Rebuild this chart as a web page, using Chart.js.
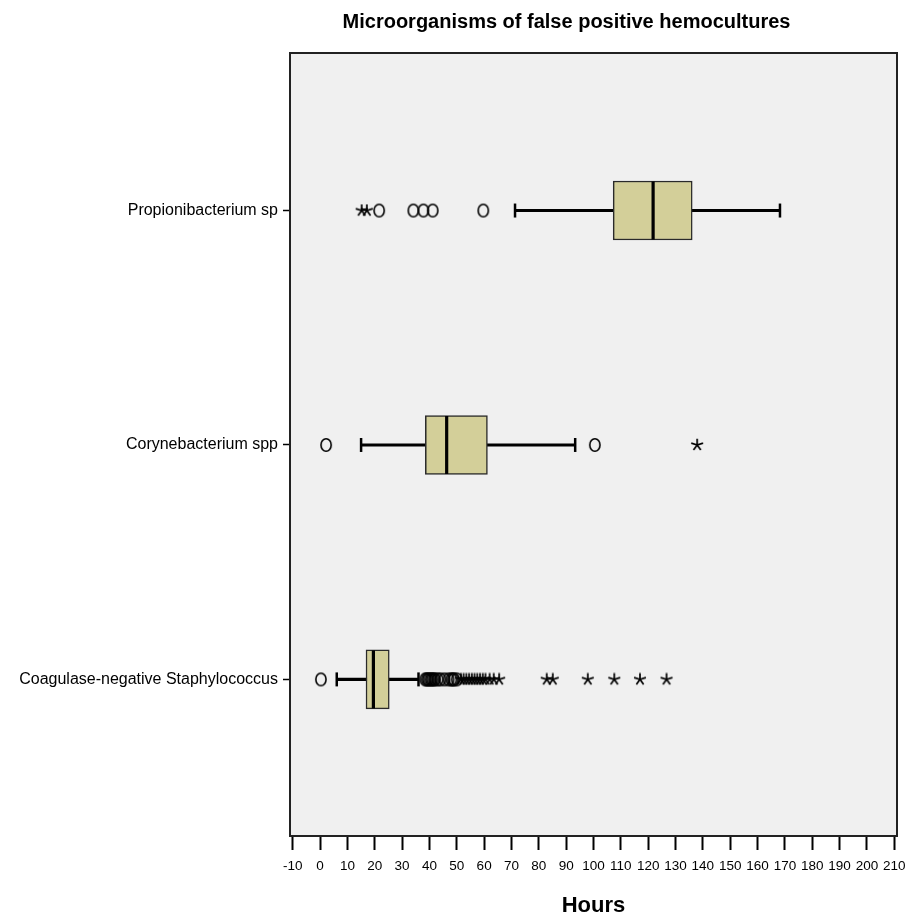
<!DOCTYPE html>
<html><head><meta charset="utf-8">
<script src="https://cdn.jsdelivr.net/npm/chart.js@4.4.1/dist/chart.umd.min.js"></script>
<style>html,body{margin:0;padding:0;background:#fff}canvas{display:block}</style>
</head><body>
<canvas id="c" width="905" height="915"></canvas>
<script>
// ---- data (hours) ----
const categories = ['Propionibacterium sp', 'Corynebacterium spp', 'Coagulase-negative Staphylococcus'];
const whiskerLow  = [71.3, 15.0, 6.1];
const q1          = [107.2, 38.5, 16.8];
const median      = [121.8, 46.3, 19.5];
const q3          = [136.1, 61.2, 25.3];
const whiskerHigh = [168.2, 93.3, 36.0];
const outliersCircle = [
  [21.6, 34.1, 37.8, 41.2, 59.7],
  [2.2, 100.5],
  [0.3, 38.5, 39, 39.5, 40, 40.5, 41, 41.5, 42, 43, 44, 45.5, 47, 48, 48.5, 49, 50]
];
const outliersStar = [
  [15.2, 17.1],
  [137.9],
  [51.5, 52.5, 53.5, 54.5, 55.5, 56.5, 57.5, 58.5, 59.5, 60.5, 62, 63.5, 65.5, 82.9, 85.1, 97.9, 107.6, 117.0, 126.7]
];
const xTicks = [-10, 0, 10, 20, 30, 40, 50, 60, 70, 80, 90, 100, 110, 120, 130, 140, 150, 160, 170, 180, 190, 200, 210];
const chartTitle = 'Microorganisms of false positive hemocultures';
const xTitle = 'Hours';

// ---- style ----
const FONT = "'Liberation Sans', Arial, sans-serif";
const BOX_FILL = 'rgb(211,207,153)';

function ellipseMarker() {
  const c = document.createElement('canvas'); c.width = 14; c.height = 16;
  const g = c.getContext('2d');
  g.strokeStyle = '#000'; g.lineWidth = 1.6;
  g.beginPath(); g.ellipse(7, 8, 5.1, 6.2, 0, 0, Math.PI * 2); g.stroke();
  return c;
}
function starMarker() {
  const c = document.createElement('canvas'); c.width = 14; c.height = 14;
  const g = c.getContext('2d');
  g.strokeStyle = '#000'; g.lineWidth = 1.7;
  g.beginPath();
  for (let k = 0; k < 5; k++) {
    const a = -Math.PI / 2 + k * 2 * Math.PI / 5;
    g.moveTo(7, 7); g.lineTo(7 + 6.2 * Math.cos(a), 7 + 6.2 * Math.sin(a));
  }
  g.stroke();
  return c;
}

const noPad = () => ({left: 0, top: 0, right: 0, bottom: 0});

const framePlugin = {
  id: 'frame',
  afterLayout(chart) {
    if (chart.titleBlock) { chart.titleBlock.left = 236; chart.titleBlock.right = chart.chartArea.right; }
  },
  beforeDraw(chart) {
    const {ctx, chartArea: a} = chart;
    ctx.save();
    ctx.fillStyle = '#fff'; ctx.fillRect(0, 0, chart.width, chart.height);
    ctx.fillStyle = '#f0f0f0'; ctx.fillRect(a.left, a.top, a.right - a.left, a.bottom - a.top);
    ctx.restore();
  },
  afterDraw(chart) {
    const {ctx, chartArea: a} = chart;
    ctx.save();
    ctx.strokeStyle = '#222'; ctx.lineWidth = 2;
    ctx.strokeRect(a.left, a.top, a.right - a.left, a.bottom - a.top);
    ctx.restore();
  }
};

const idx = categories.map((_, i) => i);

new Chart(document.getElementById('c'), {
  type: 'bar',
  data: {
    datasets: [
      { type: 'bar', indexAxis: 'y', grouped: false, order: 6,
        data: idx.map(i => ({x: [whiskerLow[i], whiskerHigh[i]], y: i})),
        barThickness: 2.5, backgroundColor: '#000', borderWidth: 0 },
      { type: 'bar', indexAxis: 'y', grouped: false, order: 5,
        data: idx.map(i => ({x: [q1[i], q3[i]], y: i})),
        barThickness: 59, backgroundColor: BOX_FILL, borderColor: '#2a2a2a', borderWidth: 1.5, borderSkipped: false },
      { type: 'scatter', order: 4,
        data: idx.map(i => ({x: median[i], y: i})),
        pointStyle: 'line', rotation: 90, radius: 29, borderWidth: 3.2, borderColor: '#000' },
      { type: 'scatter', order: 3,
        data: idx.flatMap(i => [{x: whiskerLow[i], y: i}, {x: whiskerHigh[i], y: i}]),
        pointStyle: 'line', rotation: 90, radius: 7, borderWidth: 2.5, borderColor: '#000' },
      { type: 'scatter', order: 2,
        data: idx.flatMap(i => outliersCircle[i].map(v => ({x: v, y: i}))),
        pointStyle: ellipseMarker(), radius: 6 },
      { type: 'scatter', order: 1,
        data: idx.flatMap(i => outliersStar[i].map(v => ({x: v, y: i}))),
        pointStyle: starMarker(), radius: 6 }
    ]
  },
  options: {
    responsive: false,
    animation: false,
    events: [],
    devicePixelRatio: 1,
    layout: { autoPadding: false, padding: { left: 0, right: 8, top: 0, bottom: 0 } },
    plugins: {
      legend: { display: false },
      tooltip: { enabled: false },
      title: {
        display: true, text: chartTitle, color: '#000',
        font: { family: FONT, size: 20, weight: 'bold', lineHeight: 1.2 },
        padding: { top: 10, bottom: 19 }
      }
    },
    scales: {
      x: {
        type: 'linear', min: -11, max: 211, offset: false,
        afterBuildTicks: s => { s.ticks = xTicks.map(v => ({value: v})); },
        afterFit: s => { s.height = 79; s.paddingLeft = 0; s.paddingRight = 0; s.getPadding = noPad; },
        ticks: { font: { family: FONT, size: 13.5 }, color: '#000', padding: 8, autoSkip: false, maxRotation: 0,
                 callback: v => String(v) },
        grid: { offset: false, drawOnChartArea: false, drawTicks: true, tickLength: 14, tickColor: '#000', tickWidth: 2, color: '#000' },
        border: { display: false },
        title: { display: true, text: xTitle, color: '#000',
                 font: { family: FONT, size: 22, weight: 'bold', lineHeight: 0.85 }, padding: { top: 0, bottom: 0 } }
      },
      y: {
        type: 'linear', reverse: true, min: -0.672, max: 2.668, offset: false,
        afterBuildTicks: s => { s.ticks = idx.map(i => ({value: i})); },
        afterFit: s => { s.width = 290; s.paddingTop = 0; s.paddingBottom = 0; s.getPadding = noPad; },
        ticks: { font: { family: FONT, size: 16 }, color: '#000', padding: 5, autoSkip: false,
                 callback: v => categories[v] },
        grid: { offset: false, drawOnChartArea: false, drawTicks: true, tickLength: 7, tickColor: '#000', tickWidth: 1.5, color: '#000' },
        border: { display: false }
      }
    }
  },
  plugins: [framePlugin]
});
</script>
</body></html>
